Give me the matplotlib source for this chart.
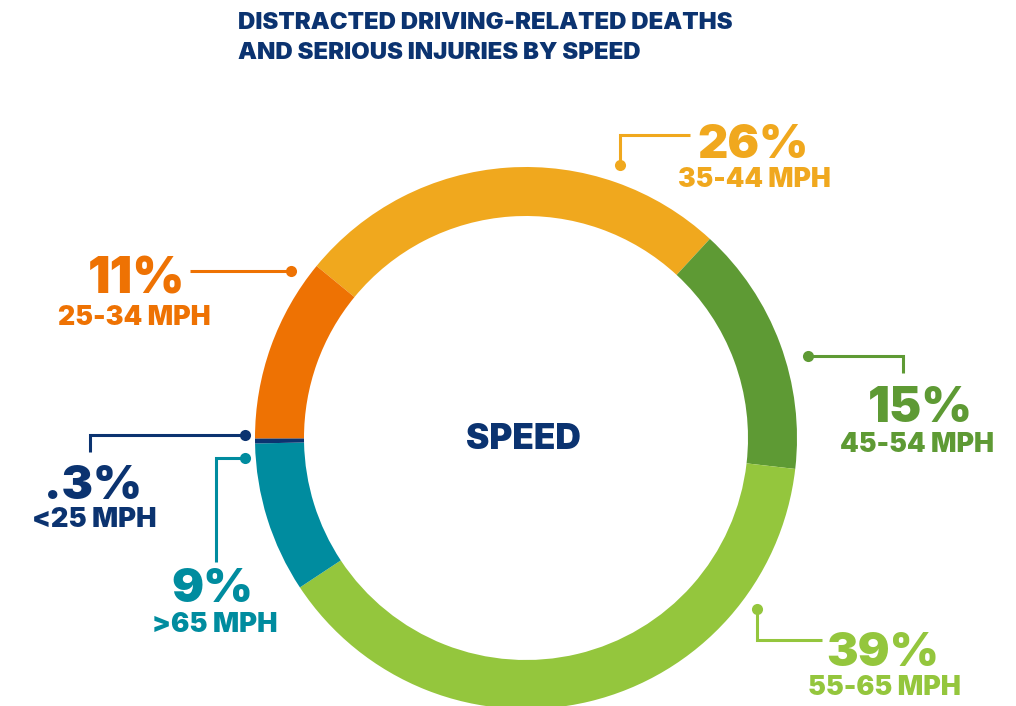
import matplotlib
matplotlib.use("Agg")
import matplotlib.pyplot as plt

# Share of distracted-driving deaths and serious injuries by travel speed
speed_bands = ["35-44 MPH", "45-54 MPH", "55-65 MPH", ">65 MPH", "<25 MPH", "25-34 MPH"]
shares = [26, 15, 39, 9, 0.3, 11]
share_labels = ["26%", "15%", "39%", "9%", ".3%", "11%"]
colors = ["#F0A81E", "#5E9A34", "#94C63D", "#008C9F", "#0B3370", "#EE7203"]

title_lines = ["DISTRACTED DRIVING-RELATED DEATHS", "AND SERIOUS INJURIES BY SPEED"]
center_label = "SPEED"

W, H = 1016, 706
NAVY = "#0B3370"
FONT = "Inter"
WEIGHT = 900
CAP = 0.727            # Inter cap height as a fraction of the em
PX_PER_PT = 100 / 72

fig = plt.figure(figsize=(W / 100, H / 100), dpi=100)
ax = fig.add_axes([0, 0, 1, 1])
renderer = fig.canvas.get_renderer()


def Y(y):
    # layout is written top-down in pixels; the axes run bottom-up
    return H - y


def fitted_text(x0, x1, base, cap_px, s, color, width_weight=0.5):
    """Text centred in [x0, x1] on baseline `base`; size blends box width and cap height."""
    t = ax.text((x0 + x1) / 2, Y(base), s, color=color, fontsize=20, family=FONT,
                fontweight=WEIGHT, ha="center", va="baseline")
    w = t.get_window_extent(renderer).width
    by_width = 20 * (x1 - x0) / w
    by_height = cap_px / CAP / PX_PER_PT
    t.set_fontsize(width_weight * by_width + (1 - width_weight) * by_height)
    return t


cx, cy, r_out, ring = 526, Y(438), 271, 49
wedges, _ = ax.pie(
    shares, colors=colors, startangle=140.6, counterclock=False,
    radius=r_out, center=(cx, cy),
    wedgeprops=dict(width=ring, linewidth=0),
)
ax.set_xlim(0, W)
ax.set_ylim(0, H)
ax.set_aspect("equal")
ax.axis("off")

# title: both lines share the size of the first, left aligned
t1 = fitted_text(238, 736, 29, 16.5, title_lines[0], NAVY, width_weight=0.85)
t1.set_ha("left")
t1.set_x(238)
ax.text(238, Y(59), title_lines[1], color=NAVY, fontsize=t1.get_fontsize(),
        family=FONT, fontweight=WEIGHT, ha="left", va="baseline")

fitted_text(467, 580, 449, 26, center_label, NAVY)

# label layout: percent box (x0, x1, baseline), band box (x0, x1, baseline), leader path
layout = {
    "35-44 MPH": ((700, 806, 158), (677, 832, 187), [(620, 165), (620, 135), (690, 135)]),
    "25-34 MPH": ((87, 185, 293), (56, 212, 325), [(291, 271), (190, 271)]),
    "45-54 MPH": ((869, 972, 422), (838, 995, 452), [(808, 356), (903, 356), (903, 373)]),
    "<25 MPH": ((47, 140, 499), (29, 159, 527), [(245, 435), (90, 435), (90, 452)]),
    ">65 MPH": ((173, 252, 602), (149, 280, 632), [(245, 458), (216, 458), (216, 562)]),
    "55-65 MPH": ((829, 937, 666), (806, 963, 695), [(757, 609), (757, 640), (822, 640)]),
}

for band, pct, col in zip(speed_bands, share_labels, colors):
    (px0, px1, pb), (bx0, bx1, bb), path = layout[band]
    fitted_text(px0, px1, pb, 36, pct, col)
    fitted_text(bx0, bx1, bb, 19, band, col)
    xs = [p[0] for p in path]
    ys = [Y(p[1]) for p in path]
    ax.plot(xs, ys, color=col, lw=2.2, solid_joinstyle="miter",
            solid_capstyle="butt")
    ax.plot(xs[0], ys[0], "o", color=col, ms=8, mec="none")

fig.savefig("out.png", dpi=100, facecolor="white")
